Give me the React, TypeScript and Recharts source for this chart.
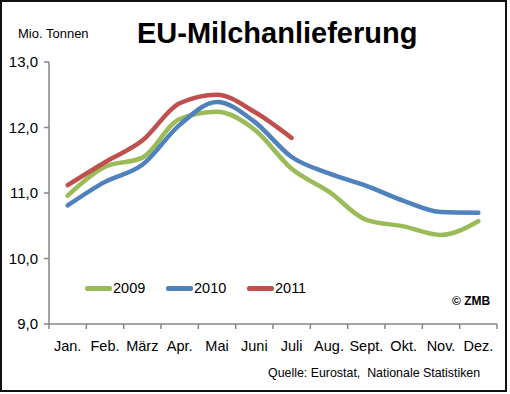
import { LineChart, Line, XAxis, YAxis, Legend } from 'recharts';

const MONTHS = ['Jan.', 'Feb.', 'März', 'Apr.', 'Mai', 'Juni', 'Juli', 'Aug.', 'Sept.', 'Okt.', 'Nov.', 'Dez.'];
const V2009 = [10.96, 11.40, 11.54, 12.13, 12.24, 11.97, 11.37, 11.02, 10.59, 10.49, 10.36, 10.57];
const V2010 = [10.81, 11.17, 11.43, 12.04, 12.39, 12.09, 11.55, 11.30, 11.11, 10.88, 10.71, 10.70];
const V2011 = [11.12, 11.47, 11.80, 12.37, 12.50, 12.24, 11.84];
const Y_TICKS = [9, 10, 11, 12, 13];

const SERIES = [
  { key: 'y2009', name: '2009', color: '#9BBB59' },
  { key: 'y2010', name: '2010', color: '#4F81BD' },
  { key: 'y2011', name: '2011', color: '#C0504D' },
];

const data = MONTHS.map((m, i) => ({
  month: m,
  y2009: V2009[i],
  y2010: V2010[i],
  y2011: i < V2011.length ? V2011[i] : null,
}));

const FONT = 'Arial, "Liberation Sans", sans-serif';
const AXIS_GRAY = '#868686';
const PLOT_W = 448;
const HALF_BAND = PLOT_W / MONTHS.length / 2;

// Excel-Stil: Teilstriche zwischen den Kategorien
const MonthTick = (props: any) => {
  const { x, y, payload, index } = props;
  return (
    <g>
      <line x1={x - HALF_BAND} x2={x - HALF_BAND} y1={y} y2={y + 5} stroke={AXIS_GRAY} strokeWidth={1.5} />
      {index === MONTHS.length - 1 && (
        <line x1={x + HALF_BAND} x2={x + HALF_BAND} y1={y} y2={y + 5} stroke={AXIS_GRAY} strokeWidth={1.5} />
      )}
      <text x={x} y={y + 27} textAnchor="middle" fill="#000" fontSize={14.5} fontFamily={FONT}>
        {payload.value}
      </text>
    </g>
  );
};

const renderLegend = () => (
  <div style={{ display: 'flex', fontFamily: FONT, fontSize: 14.5, color: '#000' }}>
    {SERIES.map(s => (
      <div key={s.key} style={{ display: 'flex', alignItems: 'center', width: 81 }}>
        <span style={{ display: 'inline-block', width: 27, height: 5, borderRadius: 2, background: s.color, marginRight: 1 }}></span>
        <span>{s.name}</span>
      </div>
    ))}
  </div>
);

export default function App() {
  return (
    <div style={{ position: 'absolute', left: 0, top: 0, width: 510, height: 394, background: '#fff' }}>
      <div style={{ position: 'absolute', left: 0, top: 0, width: 507, height: 392, border: '2px solid #111', boxSizing: 'border-box' }}></div>

      <div style={{ position: 'absolute', left: 18, top: 26, fontFamily: FONT, fontSize: 13, color: '#000' }}>Mio. Tonnen</div>
      <div style={{ position: 'absolute', left: 137, top: 17, fontFamily: FONT, fontSize: 29, fontWeight: 700, color: '#000', whiteSpace: 'nowrap' }}>
        EU-Milchanlieferung
      </div>

      <LineChart width={510} height={394} data={data} margin={{ top: 62, right: 13, bottom: 40, left: 0 }}>
        <XAxis
          dataKey="month"
          height={30}
          interval={0}
          padding={{ left: HALF_BAND, right: HALF_BAND }}
          tickLine={false}
          tickSize={0}
          tickMargin={0}
          axisLine={{ stroke: AXIS_GRAY, strokeWidth: 1.5 }}
          tick={<MonthTick />}
        />
        <YAxis
          width={49}
          domain={[9, 13]}
          ticks={Y_TICKS}
          tickSize={5}
          tickMargin={6}
          axisLine={{ stroke: AXIS_GRAY, strokeWidth: 1.5 }}
          tickLine={{ stroke: AXIS_GRAY, strokeWidth: 1.5 }}
          tick={{ fill: '#000', fontSize: 15, fontFamily: FONT }}
          tickFormatter={(v: number) => v.toFixed(1).replace('.', ',')}
        />
        {SERIES.map(s => (
          <Line
            key={s.key}
            dataKey={s.key}
            name={s.name}
            type="monotone"
            stroke={s.color}
            strokeWidth={4.5}
            strokeLinecap="round"
            dot={false}
            activeDot={false}
            isAnimationActive={false}
          />
        ))}
        <Legend
          layout="horizontal"
          verticalAlign="middle"
          align="center"
          wrapperStyle={{ top: 280, left: 85, width: 'auto' }}
          content={renderLegend}
        />
      </LineChart>

      <div style={{ position: 'absolute', left: 452, top: 294, fontFamily: FONT, fontSize: 12, fontWeight: 700, color: '#000', whiteSpace: 'nowrap' }}>© ZMB</div>
      <div style={{ position: 'absolute', left: 268, top: 366, fontFamily: FONT, fontSize: 12.4, color: '#000', whiteSpace: 'nowrap' }}>
        Quelle: Eurostat,&nbsp; Nationale Statistiken
      </div>
    </div>
  );
}
